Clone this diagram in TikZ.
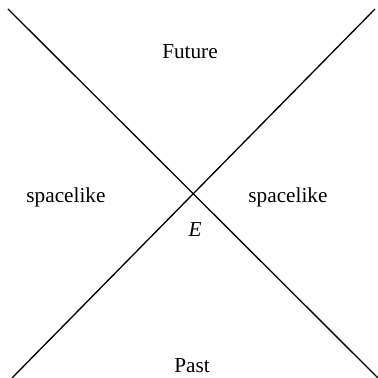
\documentclass[tikz,border=0pt]{standalone}
\usepackage{fontspec}
\setmainfont{Liberation Serif}
\usetikzlibrary{positioning}
\tikzset{
  region/.style={font=\fontsize{16}{19}\selectfont, inner sep=0pt},
  cone/.style={line width=1pt, black}
}
\begin{document}
\begin{tikzpicture}[x=0.02646cm, y=-0.02646cm]
\useasboundingbox (0,0) rectangle (378,378);
% light cone
\coordinate (tl) at (8,9);
\coordinate (tr) at (375,9);
\coordinate (bl) at (12,378);
\coordinate (br) at (378,378);
\draw[cone] (tl) -- (br);
\draw[cone] (tr) -- (bl);
% regions
\node[region] (future) at (190,52) {Future};
\node[region] (left) at (66,197) {spacelike};
\node[region] (right) at (288,197) {spacelike};
\node[region] (event) at (195,230) {\itshape E};
\node[region] (past) at (192,366) {Past};
\end{tikzpicture}
\end{document}
